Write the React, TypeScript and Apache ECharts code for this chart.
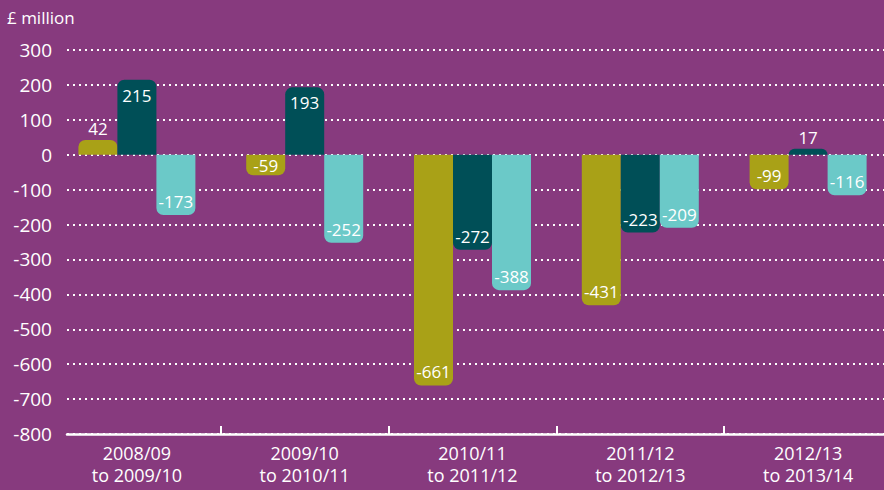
import React, { useEffect, useRef } from "react";
import * as echarts from "echarts";

const categories = ["2008/09\nto 2009/10", "2009/10\nto 2010/11", "2010/11\nto 2011/12", "2011/12\nto 2012/13", "2012/13\nto 2013/14"];
const seriesA = [42, -59, -661, -431, -99];
const seriesB = [215, 193, -272, -223, 17];
const seriesC = [-173, -252, -388, -209, -116];
const yMin = -800;
const yMax = 300;
const yStep = 100;

const BG = "#873a7e";
const COLORS = ["#a9a117", "#004f57", "#6bc9c8"];
const FONT = "Open Sans";

function buildItems(values: number[]) {
  return values.map((v) => {
    let position = "insideBottom";
    if (v > 0 && v < 100) position = "top";
    else if (v >= 100) position = "insideTop";
    else if (v > -80) position = "inside";
    return {
      value: v,
      itemStyle: { borderRadius: v >= 0 ? [7, 7, 0, 0] : [0, 0, 7, 7] },
      label: { position, distance: position === "top" ? 3 : position === "insideTop" ? 7 : 5 },
    };
  });
}

export default function App() {
  const ref = useRef<HTMLDivElement>(null);
  useEffect(() => {
    if (!ref.current) return;
    const chart = echarts.init(ref.current, null, { renderer: "svg" });
    const labelStyle = { show: true, color: "#ffffff", fontSize: 17, fontFamily: FONT };
    const mk = (data: number[], color: string) => ({
      type: "bar",
      xAxisIndex: 1,
      yAxisIndex: 1,
      data: buildItems(data),
      barWidth: 39,
      barGap: "0%",
      itemStyle: { color },
      label: labelStyle,
    });
    chart.setOption({
      animation: false,
      backgroundColor: BG,
      textStyle: { fontFamily: FONT },
      title: {
        text: "£ million",
        left: 2,
        top: 4,
        textStyle: { color: "#ffffff", fontSize: 17, fontWeight: "normal", fontFamily: FONT },
      },
      grid: [
        { left: 67, right: 0, top: 50, bottom: 56, outerBoundsMode: "none", containLabel: false },
        { left: 53, width: 839, top: 50, bottom: 56, outerBoundsMode: "none", containLabel: false },
      ],
      xAxis: [
        {
          type: "value",
          gridIndex: 0,
          min: 0,
          max: 1,
          axisLine: { show: true, onZero: false, lineStyle: { color: "#ffffff", width: 2.5 } },
          axisTick: { show: false },
          axisLabel: { show: false },
          splitLine: { show: false },
          z: 10,
        },
        {
          type: "category",
          gridIndex: 1,
          data: categories,
          position: "bottom",
          axisLine: { show: false, onZero: false },
          axisTick: {
            show: true,
            inside: true,
            length: 8,
            interval: (index: number) => index > 0,
            lineStyle: { color: "#ffffff", width: 2 },
          },
          axisLabel: {
            color: "#ffffff",
            fontSize: 18,
            lineHeight: 22,
            margin: 8,
            fontFamily: FONT,
            interval: 0,
          },
          splitLine: { show: false },
        },
      ],
      yAxis: [
        {
          type: "value",
          gridIndex: 0,
          min: yMin,
          max: yMax,
          interval: yStep,
          axisLine: { show: false },
          axisTick: { show: false },
          axisLabel: { color: "#ffffff", fontSize: 19, margin: 15, fontFamily: FONT },
          splitLine: {
            show: true,
            lineStyle: { color: "#ffffff", width: 2, type: [2, 4] },
          },
        },
        {
          type: "value",
          gridIndex: 1,
          min: yMin,
          max: yMax,
          interval: yStep,
          show: false,
          splitLine: { show: false },
        },
      ],
      series: [mk(seriesA, COLORS[0]), mk(seriesB, COLORS[1]), mk(seriesC, COLORS[2])],
    });
    return () => chart.dispose();
  }, []);
  return (
    <div
      ref={ref}
      style={{ position: "fixed", left: 0, top: 0, width: 884, height: 490, background: BG }}
    />
  );
}
